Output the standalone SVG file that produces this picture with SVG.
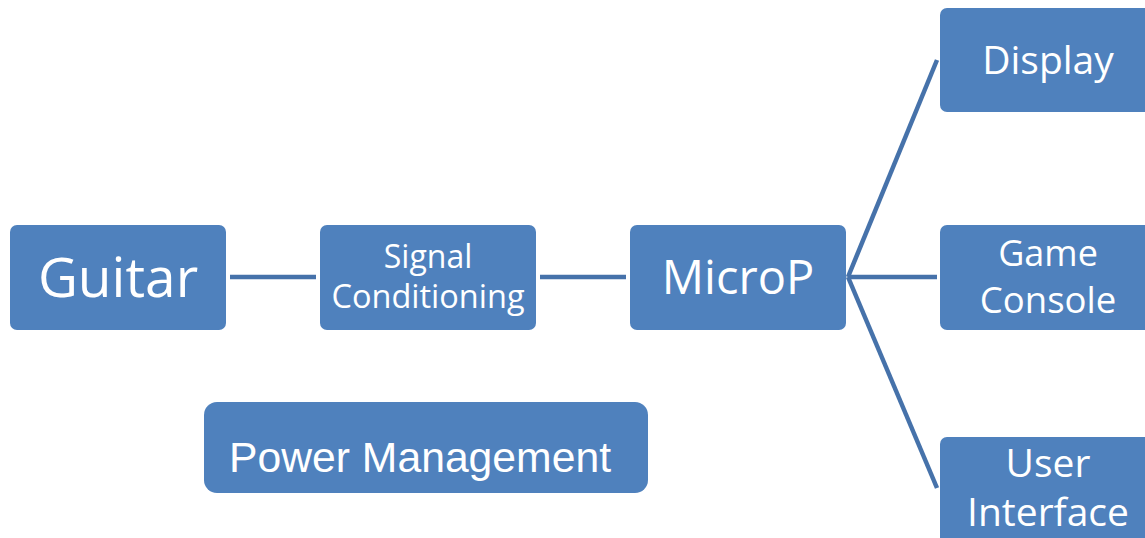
<svg xmlns="http://www.w3.org/2000/svg" width="1145" height="538" viewBox="0 0 1145 538">
<style>
.box{fill:#4F81BD;stroke:none}
.t{fill:#ffffff;font-family:"Open Sans","Noto Sans",sans-serif;text-anchor:middle}
.ta{fill:#ffffff;font-family:"Liberation Sans",Arial,sans-serif;text-anchor:middle}
.c{stroke:#4672AA;stroke-width:4.5;fill:none}
</style>
<rect width="1145" height="538" fill="#ffffff"/>
<g id="connectors">
<line class="c" x1="230" y1="277" x2="316" y2="277"/>
<line class="c" x1="540" y1="277" x2="626" y2="277"/>
<line class="c" x1="848" y1="277" x2="937" y2="60"/>
<line class="c" x1="848" y1="277" x2="937" y2="277"/>
<line class="c" x1="848" y1="277" x2="937" y2="488"/>
</g>
<g id="guitar"><rect class="box" x="10" y="225" width="216" height="105" rx="7"/><text class="t" x="118" y="297" font-size="55">Guitar</text></g>
<g id="signal"><rect class="box" x="320" y="225" width="216" height="105" rx="7"/><text class="t" x="428" y="268" font-size="32">Signal</text><text class="t" x="428" y="308" font-size="32.5">Conditioning</text></g>
<g id="microp"><rect class="box" x="630" y="225" width="216" height="105" rx="7"/><text class="t" x="738" y="294" font-size="47">MicroP</text></g>
<g id="display"><rect class="box" x="940" y="8" width="216" height="104" rx="7"/><text class="t" x="1048" y="74" font-size="39">Display</text></g>
<g id="console"><rect class="box" x="940" y="225" width="216" height="105" rx="7"/><text class="t" x="1048" y="266" font-size="36">Game</text><text class="t" x="1048" y="313" font-size="36.5">Console</text></g>
<g id="ui"><rect class="box" x="940" y="437" width="216" height="110" rx="7"/><text class="t" x="1048" y="477" font-size="39">User</text><text class="t" x="1048" y="526" font-size="39">Interface</text></g>
<g id="power"><rect class="box" x="204" y="402" width="444" height="91" rx="13"/><text class="ta" x="420" y="472" font-size="42.7">Power Management</text></g>
</svg>
